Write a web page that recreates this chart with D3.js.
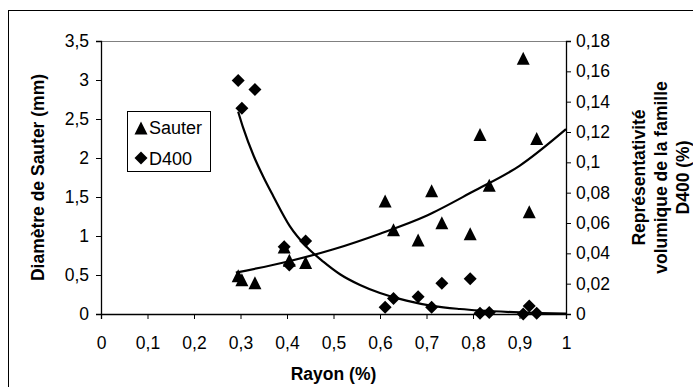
<!DOCTYPE html>
<html>
<head>
<meta charset="utf-8">
<script src="https://cdn.jsdelivr.net/npm/d3@7/dist/d3.min.js"></script>
<style>
  html, body { margin: 0; padding: 0; background: #fff; }
  svg { display: block; font-family: "Liberation Sans", Arial, sans-serif; }
</style>
</head>
<body>
<svg id="chart" width="693" height="387"></svg>
<script>
// Radial position shared by both series
const rayon = [0.295, 0.303, 0.331, 0.394, 0.405, 0.44, 0.611, 0.629, 0.682, 0.711, 0.733, 0.794, 0.815, 0.835, 0.908, 0.921, 0.937];
// Sauter diameter (mm), left axis
const sauter = [0.49, 0.44, 0.40, 0.86, 0.69, 0.66, 1.45, 1.08, 0.95, 1.58, 1.17, 1.03, 2.30, 1.65, 3.28, 1.31, 2.25];
// Volume share of the D400 family (%), right axis
const d400 = [0.154, 0.1356, 0.148, 0.0444, 0.0323, 0.0481, 0.0044, 0.0103, 0.0114, 0.0044, 0.0202, 0.0233, 0.0005, 0.001, 0.0, 0.0053, 0.0005];

// Trend curves
const sauterTrendX = [0.29, 0.4, 0.5, 0.6, 0.7, 0.8, 0.9, 1.0];
const sauterTrendY = [0.53, 0.67, 0.83, 1.03, 1.26, 1.57, 1.90, 2.37];
const d400TrendX = [0.295, 0.306, 0.328, 0.349, 0.37, 0.406, 0.442, 0.478, 0.514, 0.557, 0.6, 0.657, 0.715, 0.772, 0.815, 0.887, 0.944, 1.0];
const d400TrendY = [0.1334, 0.1225, 0.1045, 0.0905, 0.078, 0.058, 0.0444, 0.0345, 0.0262, 0.0191, 0.0138, 0.0088, 0.0052, 0.0033, 0.0023, 0.0012, 0.0006, 0.0002];

// Axis ticks
const xTicks = [0, 0.1, 0.2, 0.3, 0.4, 0.5, 0.6, 0.7, 0.8, 0.9, 1];
const yLeftTicks = [0, 0.5, 1, 1.5, 2, 2.5, 3, 3.5];
const yRightTicks = [0, 0.02, 0.04, 0.06, 0.08, 0.1, 0.12, 0.14, 0.16, 0.18];

const seriesNames = ["Sauter", "D400"];
const xTitle = "Rayon (%)";
const yLeftTitle = "Diamètre de Sauter (mm)";
const yRightTitle = ["Représentativité", "volumique de la famille", "D400 (%)"];

const fmt = v => String(v).replace(".", ",");

const svg = d3.select("#chart");
const plot = { left: 101, right: 566, top: 41, bottom: 314 };

const x = d3.scaleLinear().domain([0, 1]).range([plot.left, plot.right]);
const yL = d3.scaleLinear().domain([0, 3.5]).range([plot.bottom, plot.top]);
const yR = d3.scaleLinear().domain([0, 0.18]).range([plot.bottom, plot.top]);

// Outer chart frame
svg.append("rect")
  .attr("x", 8.5).attr("y", 10.5).attr("width", 720).attr("height", 420)
  .attr("fill", "none").attr("stroke", "#000").attr("stroke-width", 1);

// Plot area top edge
svg.append("line")
  .attr("x1", plot.left).attr("x2", plot.right)
  .attr("y1", plot.top + 0.5).attr("y2", plot.top + 0.5)
  .attr("stroke", "#808080").attr("stroke-width", 1);

const fontSize = 17.5;

function styleAxis(g) {
  g.select(".domain").attr("stroke", "#000").attr("stroke-width", 1.3);
  g.selectAll(".tick line").attr("stroke", "#000").attr("stroke-width", 1);
  g.selectAll(".tick text").attr("fill", "#000")
    .style("font-size", fontSize + "px")
    .style("font-family", '"Liberation Sans", Arial, sans-serif');
}

svg.append("g")
  .attr("transform", `translate(0,${plot.bottom})`)
  .call(d3.axisBottom(x).tickValues(xTicks).tickFormat(fmt).tickSizeOuter(0).tickSize(5).tickPadding(18))
  .call(styleAxis);

svg.append("g")
  .attr("transform", `translate(${plot.left},0)`)
  .call(d3.axisLeft(yL).tickValues(yLeftTicks).tickFormat(fmt).tickSizeOuter(0).tickSize(5).tickPadding(7))
  .call(styleAxis);

svg.append("g")
  .attr("transform", `translate(${plot.right},0)`)
  .call(d3.axisRight(yR).tickValues(yRightTicks).tickFormat(fmt).tickSizeOuter(0).tickSize(5).tickPadding(5))
  .call(styleAxis);

// Axis titles
svg.append("text")
  .attr("x", (plot.left + plot.right) / 2).attr("y", 380)
  .attr("text-anchor", "middle")
  .style("font-size", fontSize + "px").style("font-weight", "bold")
  .text(xTitle);

svg.append("text")
  .attr("transform", `translate(44,${(plot.top + plot.bottom) / 2}) rotate(-90)`)
  .attr("text-anchor", "middle")
  .style("font-size", fontSize + "px").style("font-weight", "bold")
  .text(yLeftTitle);

yRightTitle.forEach((line, i) => {
  svg.append("text")
    .attr("transform", `translate(${645 + i * 22},${(plot.top + plot.bottom) / 2}) rotate(-90)`)
    .attr("text-anchor", "middle")
    .style("font-size", fontSize + "px").style("font-weight", "bold")
    .text(line);
});

// Marker shapes (centred on their bounding box)
const triPath = s => `M0,${-s / 2}L${s / 2},${s / 2}L${-s / 2},${s / 2}Z`;
const diaPath = s => `M0,${-s / 2}L${s / 2},0L0,${s / 2}L${-s / 2},0Z`;

const pts = rayon.map((r, i) => ({ r, s: sauter[i], d: d400[i] }));

svg.append("g").selectAll("path")
  .data(pts).join("path")
  .attr("d", triPath(13))
  .attr("transform", d => `translate(${x(d.r)},${yL(d.s)})`)
  .attr("fill", "#000");

svg.append("g").selectAll("path")
  .data(pts).join("path")
  .attr("d", diaPath(13))
  .attr("transform", d => `translate(${x(d.r)},${yR(d.d)})`)
  .attr("fill", "#000");

// Trend curves
const lineL = d3.line().x(d => x(d[0])).y(d => yL(d[1])).curve(d3.curveMonotoneX);
const lineR = d3.line().x(d => x(d[0])).y(d => yR(d[1])).curve(d3.curveMonotoneX);

svg.append("path")
  .datum(sauterTrendX.map((v, i) => [v, sauterTrendY[i]]))
  .attr("d", lineL).attr("fill", "none").attr("stroke", "#000").attr("stroke-width", 2.2);

svg.append("path")
  .datum(d400TrendX.map((v, i) => [v, d400TrendY[i]]))
  .attr("d", lineR).attr("fill", "none").attr("stroke", "#000").attr("stroke-width", 2.2);

// Legend
const leg = svg.append("g");
leg.append("rect")
  .attr("x", 127.5).attr("y", 111.5).attr("width", 83).attr("height", 60)
  .attr("fill", "#fff").attr("stroke", "#000").attr("stroke-width", 1);
leg.append("path").attr("d", triPath(13)).attr("transform", "translate(141,128)").attr("fill", "#000");
leg.append("path").attr("d", diaPath(13)).attr("transform", "translate(141,158)").attr("fill", "#000");
leg.append("text").attr("x", 149).attr("y", 134).style("font-size", "18px").text(seriesNames[0]);
leg.append("text").attr("x", 149).attr("y", 164.5).style("font-size", "18px").text(seriesNames[1]);
</script>
</body>
</html>
